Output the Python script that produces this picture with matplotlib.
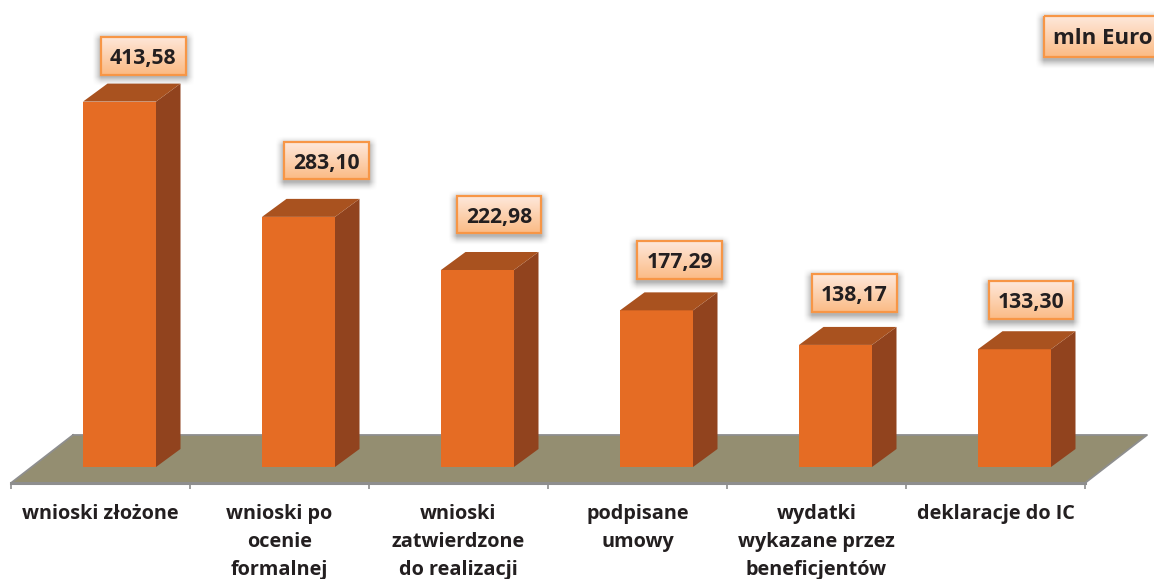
import numpy as np
import matplotlib
matplotlib.use("Agg")
import matplotlib.pyplot as plt
from matplotlib.patches import Polygon, Rectangle

categories = ["wnioski złożone", "wnioski po\nocenie\nformalnej", "wnioski\nzatwierdzone\ndo realizacji",
              "podpisane\numowy", "wydatki\nwykazane przez\nbeneficjentów", "deklaracje do IC"]
values = [413.58, 283.10, 222.98, 177.29, 138.17, 133.30]
value_labels = ["413,58", "283,10", "222,98", "177,29", "138,17", "133,30"]
unit_label = "mln Euro"

W, H = 1154, 579
FONT = "Open Sans"
INK = "#231F20"
FRONT, SIDE, TOP = "#E56C24", "#91431E", "#A9521F"
FLOOR, EDGE = "#948E71", "#8E8E8E"

AX_L, AX_R, AX_B = 11, 1085, 483      # axes box in pixels
BASE_Y = 467                          # pixel row of value 0
PX_PER_UNIT = 0.8835
DX, DY = 24.5, 18                     # 3D depth of bars, px
BAR_W, BAR_SHIFT = 73, 19             # px

fig = plt.figure(figsize=(W / 100, H / 100), dpi=100, facecolor="white")
ax = fig.add_axes([AX_L / W, 1 - AX_B / H, (AX_R - AX_L) / W, AX_B / H])
ax.set_facecolor("none")
ax.set_xlim(0, len(values))
ax.set_ylim(-(AX_B - BASE_Y) / PX_PER_UNIT, BASE_Y / PX_PER_UNIT)
ux = len(values) / (AX_R - AX_L)      # data units per px, x
uy = 1 / PX_PER_UNIT                  # data units per px, y

y0 = ax.get_ylim()[0]
# floor
fdx, fdy = 62 * ux, 48 * uy
ax.add_patch(Polygon([(0, y0), (6, y0), (6 + fdx, y0 + fdy), (fdx, y0 + fdy)], closed=True,
                     facecolor=FLOOR, edgecolor="none", clip_on=False, zorder=1))
ax.plot([fdx, 6 + fdx, 6, 0, fdx], [y0 + fdy, y0 + fdy, y0, y0, y0 + fdy], color=EDGE, lw=1.3,
        clip_on=False, zorder=1.5)
ax.plot([0, 6], [y0, y0], color=EDGE, lw=2.2, clip_on=False, zorder=1.6)

# bars
xs = np.arange(len(values)) + 0.5 + BAR_SHIFT * ux
bw = BAR_W * ux
ax.bar(xs, values, width=bw, color=FRONT, zorder=3, clip_on=False)
for x, v in zip(xs, values):
    r = x + bw / 2
    l = x - bw / 2
    d_x, d_y = DX * ux, DY * uy
    ax.add_patch(Polygon([(r, 0), (r + d_x, d_y), (r + d_x, v + d_y), (r, v)], closed=True,
                         facecolor=SIDE, edgecolor="none", clip_on=False, zorder=3))
    ax.add_patch(Polygon([(l, v), (r, v), (r + d_x, v + d_y), (l + d_x, v + d_y)], closed=True,
                         facecolor=TOP, edgecolor="none", clip_on=False, zorder=3))

# axis
for s in ax.spines.values():
    s.set_visible(False)
ax.yaxis.set_visible(False)
ax.set_xticks(np.arange(len(values) + 1))
ax.set_xticklabels([])
ax.tick_params(axis="x", which="major", length=4.6, width=1.2, color=EDGE)
ax.set_xticks(np.arange(len(values)) + 0.5, minor=True)
ax.set_xticklabels(categories, minor=True, fontfamily=FONT, fontweight="bold", fontsize=14.3,
                   color=INK, linespacing=1.53)
ax.tick_params(axis="x", which="minor", length=0, pad=15.2)

# overlay in pixels for callout boxes
ov = fig.add_axes([0, 0, 1, 1], facecolor="none")
ov.set_xlim(0, W)
ov.set_ylim(H, 0)
ov.axis("off")

grad = np.linspace(0, 1, 64)[:, None, None]
top_c = np.array(matplotlib.colors.to_rgb("#FEE8DB"))[None, None, :]
bot_c = np.array(matplotlib.colors.to_rgb("#FBBB85"))[None, None, :]
grad_img = top_c * (1 - grad) + bot_c * grad


def callout(x0, x1, y0_, y1_, text, size=15.2):
    # soft shadow
    pad = 9
    nx, ny = int(x1 - x0 + 2 * pad), int(y1_ - y0_ + 2 * pad)
    xx = np.minimum(np.arange(nx) + 0.5, nx - np.arange(nx) - 0.5) / pad
    yy = np.minimum(np.arange(ny) + 0.5, ny - np.arange(ny) - 0.5) / pad
    a = np.clip(xx, 0, 1)[None, :] * np.clip(yy, 0, 1)[:, None]
    sh = np.zeros((ny, nx, 4))
    sh[..., :3] = 0.3
    sh[..., 3] = 0.42 * a ** 1.5
    ov.imshow(sh, extent=(x0 - pad, x1 + pad, y1_ + pad + 3, y0_ - pad + 3), aspect="auto",
              interpolation="bilinear", zorder=5)
    ov.imshow(grad_img, extent=(x0, x1, y1_, y0_), aspect="auto", interpolation="bilinear", zorder=6)
    ov.add_patch(Rectangle((x0, y0_), x1 - x0, y1_ - y0_, fill=False, edgecolor="#F79646", lw=1.6, zorder=7))
    ov.text((x0 + x1) / 2, (y0_ + y1_) / 2, text, ha="center", va="center_baseline", family=FONT,
            fontweight="bold", fontsize=size, color=INK, zorder=8)


box_px = [(100.5, 185.5, 37, 74.5), (284, 369, 142, 179), (457, 541, 196, 233),
          (637, 722, 241, 279), (812, 897, 274, 312), (989, 1073, 281, 319)]
for b, t in zip(box_px, value_labels):
    callout(*b, t)
callout(1044, 1161, 16, 57, unit_label, size=16)
ov.set_xlim(0, W)
ov.set_ylim(H, 0)

fig.savefig("out.png", dpi=100)
